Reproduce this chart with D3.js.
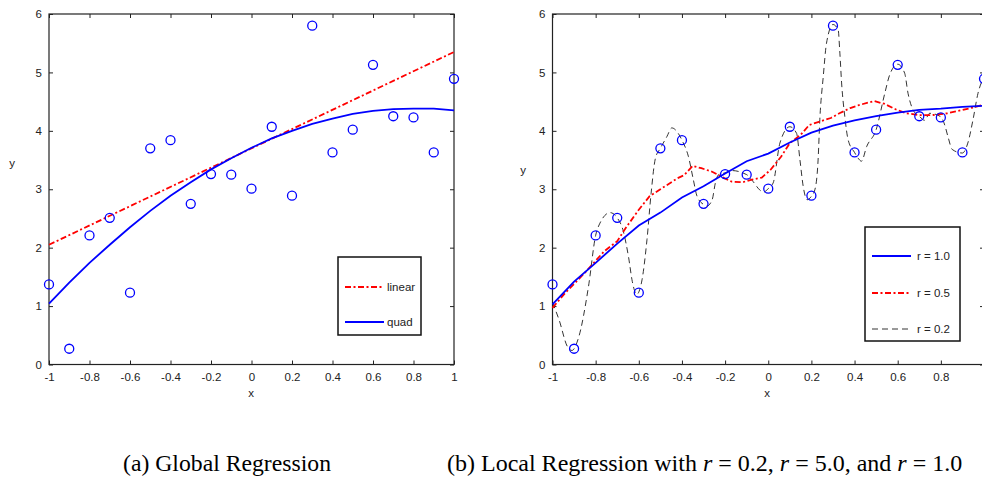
<!DOCTYPE html>
<html lang="en">
<head>
<meta charset="UTF-8">
<title>Regression</title>
<script src="https://d3js.org/d3.v7.min.js"></script>
<style>
  html, body { margin: 0; background: #fff; overflow: hidden; }
  text { font-family: "Liberation Sans", Arial, sans-serif; fill: #222; }
  .cap { font-family: "Liberation Serif", "Times New Roman", serif; fill: #000; }
</style>
</head>
<body>
<svg id="svg" width="982" height="478"></svg>
<script>
// sample points (same in both panels)
const xs = [-1, -0.9, -0.8, -0.7, -0.6, -0.5, -0.4, -0.3, -0.2, -0.1, 0, 0.1, 0.2, 0.3, 0.4, 0.5, 0.6, 0.7, 0.8, 0.9, 1];
const ys = [1.37, 0.27, 2.21, 2.51, 1.23, 3.70, 3.84, 2.75, 3.26, 3.25, 3.01, 4.07, 2.89, 5.80, 3.63, 4.02, 5.13, 4.25, 4.23, 3.63, 4.89];

// (a) global fits
const linearX = [-1, 1];
const linearY = [2.05, 5.35];
const quadY = [1.04, 1.40, 1.74, 2.05, 2.35, 2.63, 2.89, 3.12, 3.34, 3.53, 3.71, 3.87, 4.00, 4.12, 4.21, 4.29, 4.34, 4.37, 4.38, 4.38, 4.35];

// (b) local fits
const r10Y = [1.03, 1.42, 1.74, 2.07, 2.38, 2.60, 2.86, 3.05, 3.27, 3.48, 3.61, 3.80, 3.97, 4.09, 4.18, 4.25, 4.31, 4.36, 4.38, 4.41, 4.43];
const r05X = [-1, -0.94, -0.85, -0.76, -0.7, -0.66, -0.6, -0.55, -0.5, -0.42, -0.39, -0.35, -0.31, -0.26, -0.22, -0.17, -0.12, -0.08, -0.03, 0.01, 0.06, 0.1, 0.15, 0.19, 0.24, 0.29, 0.33, 0.38, 0.42, 0.49, 0.54, 0.59, 0.64, 0.7, 0.76, 0.83, 0.89, 0.95, 1];
const r05Y = [0.97, 1.23, 1.57, 1.94, 2.11, 2.34, 2.65, 2.88, 3.00, 3.19, 3.24, 3.40, 3.36, 3.30, 3.22, 3.13, 3.12, 3.16, 3.20, 3.33, 3.56, 3.79, 3.93, 4.10, 4.16, 4.22, 4.30, 4.39, 4.44, 4.51, 4.46, 4.37, 4.30, 4.27, 4.27, 4.30, 4.35, 4.40, 4.45];
const r02X = [-1, -0.97, -0.93, -0.91, -0.88, -0.833, -0.8, -0.78, -0.733, -0.7, -0.674, -0.648, -0.63, -0.61, -0.585, -0.562, -0.543, -0.523, -0.5, -0.47, -0.447, -0.416, -0.4, -0.37, -0.347, -0.33, -0.3, -0.285, -0.26, -0.245, -0.23, -0.2, -0.17, -0.1, -0.07, -0.04, -0.023, 0, 0.023, 0.054, 0.1, 0.131, 0.147, 0.162, 0.18, 0.2, 0.216, 0.231, 0.239, 0.255, 0.27, 0.3, 0.324, 0.332, 0.34, 0.355, 0.37, 0.4, 0.417, 0.432, 0.456, 0.5, 0.54, 0.563, 0.6, 0.632, 0.648, 0.671, 0.7, 0.725, 0.748, 0.8, 0.818, 0.833, 0.853, 0.9, 0.925, 0.949, 0.972, 1];
const r02Y = [1.06, 0.77, 0.30, 0.24, 0.45, 1.34, 2.21, 2.42, 2.60, 2.51, 2.31, 1.85, 1.42, 1.20, 1.45, 2.14, 2.93, 3.53, 3.70, 3.90, 4.05, 3.95, 3.84, 3.56, 3.16, 2.88, 2.74, 2.71, 2.82, 3.11, 3.25, 3.28, 3.32, 3.25, 3.13, 2.99, 2.95, 3.01, 3.11, 3.79, 4.07, 3.96, 3.50, 3.05, 2.82, 2.88, 2.99, 3.50, 4.19, 4.93, 5.50, 5.82, 5.73, 5.33, 4.82, 4.24, 3.85, 3.63, 3.53, 3.48, 3.73, 4.02, 4.64, 4.96, 5.14, 4.99, 4.64, 4.36, 4.25, 4.18, 4.30, 4.24, 4.10, 3.90, 3.68, 3.62, 3.79, 4.19, 4.64, 4.92];

const xTicks = [-1, -0.8, -0.6, -0.4, -0.2, 0, 0.2, 0.4, 0.6, 0.8, 1];
const yTicks = [0, 1, 2, 3, 4, 5, 6];

const svg = d3.select('#svg');
const blue = '#0000ff', red = '#ff0000';
const dashDot = '6,2.5,2,2.5';

function panel(left, right, top, bottom, lastXLabel) {
    const x = d3.scaleLinear().domain([-1, 1]).range([left, right]);
    const y = d3.scaleLinear().domain([0, 6]).range([bottom, top]);
    const g = svg.append('g');
    const fmtX = d => (d === 1 && !lastXLabel) ? '' : String(d);

    // ticks inside on all four sides
    g.append('g').attr('transform', `translate(0,${bottom})`)
        .call(d3.axisBottom(x).tickValues(xTicks).tickSizeInner(-4).tickSizeOuter(0).tickPadding(8).tickFormat(fmtX));
    g.append('g').attr('transform', `translate(0,${top})`)
        .call(d3.axisTop(x).tickValues(xTicks).tickSizeInner(-4).tickSizeOuter(0).tickFormat(''));
    g.append('g').attr('transform', `translate(${left},0)`)
        .call(d3.axisLeft(y).tickValues(yTicks).tickSizeInner(-4).tickSizeOuter(0).tickPadding(7).tickFormat(d => String(d)));
    g.append('g').attr('transform', `translate(${right},0)`)
        .call(d3.axisRight(y).tickValues(yTicks).tickSizeInner(-4).tickSizeOuter(0).tickFormat(''));
    g.selectAll('.domain').remove();
    g.selectAll('.tick line').attr('stroke', '#222');
    g.selectAll('.tick text').attr('font-size', '11.5px').attr('font-family', '"Liberation Sans", Arial, sans-serif').attr('fill', '#222');

    g.append('rect').attr('x', left).attr('y', top).attr('width', right - left).attr('height', bottom - top)
        .attr('fill', 'none').attr('stroke', '#222').attr('stroke-width', 1.2);

    const plot = g.append('g');
    return { x, y, g, plot };
}

function drawLine(p, xv, yv, color, width, dash, curve) {
    const line = d3.line().x(d => p.x(d[0])).y(d => p.y(d[1])).curve(curve || d3.curveLinear);
    p.plot.append('path').datum(xv.map((v, i) => [v, yv[i]]))
        .attr('d', line).attr('fill', 'none').attr('stroke', color)
        .attr('stroke-width', width).attr('stroke-dasharray', dash || null);
}

function drawPoints(p) {
    p.plot.selectAll('circle').data(xs).join('circle')
        .attr('cx', d => p.x(d)).attr('cy', (d, i) => p.y(ys[i])).attr('r', 4.5)
        .attr('fill', 'none').attr('stroke', blue).attr('stroke-width', 1.3);
}

function legend(left, top, w, h, items, textX) {
    const lg = svg.append('g');
    lg.append('rect').attr('x', left).attr('y', top).attr('width', w).attr('height', h)
        .attr('fill', '#fff').attr('stroke', '#111').attr('stroke-width', 1.5);
    items.forEach(it => {
        lg.append('line').attr('x1', left + 7).attr('x2', left + 46).attr('y1', top + it.dy).attr('y2', top + it.dy)
            .attr('stroke', it.color).attr('stroke-width', it.width).attr('stroke-dasharray', it.dash || null);
        lg.append('text').attr('x', left + textX).attr('y', top + it.dy + 4).attr('font-size', '11.5px').text(it.label);
    });
}

// (a) Global regression
const pa = panel(49, 454, 14, 364.5, true);
drawLine(pa, linearX, linearY, red, 1.8, dashDot);
drawLine(pa, xs, quadY, blue, 1.8);
drawPoints(pa);
svg.append('text').attr('x', 12).attr('y', 167).attr('text-anchor', 'middle').attr('font-size', '11.5px').text('y');
svg.append('text').attr('x', 251).attr('y', 397).attr('text-anchor', 'middle').attr('font-size', '11.5px').text('x');
legend(338, 257, 83, 78, [
    { label: 'linear', color: red, width: 1.8, dash: dashDot, dy: 30 },
    { label: 'quad', color: blue, width: 1.8, dy: 65 }
], 49);

// (b) Local regression (right edge runs off the page)
const pb = panel(552.5, 984, 14, 364.5, false);
drawLine(pb, r02X, r02Y, '#000', 0.8, '6,4', d3.curveMonotoneX);
drawLine(pb, r05X, r05Y, red, 1.8, dashDot);
drawLine(pb, xs, r10Y, blue, 1.8);
drawPoints(pb);
svg.append('text').attr('x', 523).attr('y', 174).attr('text-anchor', 'middle').attr('font-size', '11.5px').text('y');
svg.append('text').attr('x', 767).attr('y', 397).attr('text-anchor', 'middle').attr('font-size', '11.5px').text('x');
legend(865, 227, 95, 114, [
    { label: 'r = 1.0', color: blue, width: 1.8, dy: 29 },
    { label: 'r = 0.5', color: red, width: 1.8, dash: dashDot, dy: 66 },
    { label: 'r = 0.2', color: '#000', width: 0.8, dash: '6,4', dy: 102 }
], 52);

// captions
svg.append('text').attr('class', 'cap').attr('x', 123).attr('y', 471).attr('font-size', '24px')
    .attr('textLength', 208).attr('lengthAdjust', 'spacingAndGlyphs').text('(a) Global Regression');
const cb = svg.append('text').attr('class', 'cap').attr('x', 447).attr('y', 471).attr('font-size', '24px');
cb.append('tspan').text('(b) Local Regression with ');
cb.append('tspan').attr('font-style', 'italic').text('r');
cb.append('tspan').text(' = 0.2, ');
cb.append('tspan').attr('font-style', 'italic').text('r');
cb.append('tspan').text(' = 5.0, and ');
cb.append('tspan').attr('font-style', 'italic').text('r');
cb.append('tspan').text(' = 1.0');
</script>
</body>
</html>
